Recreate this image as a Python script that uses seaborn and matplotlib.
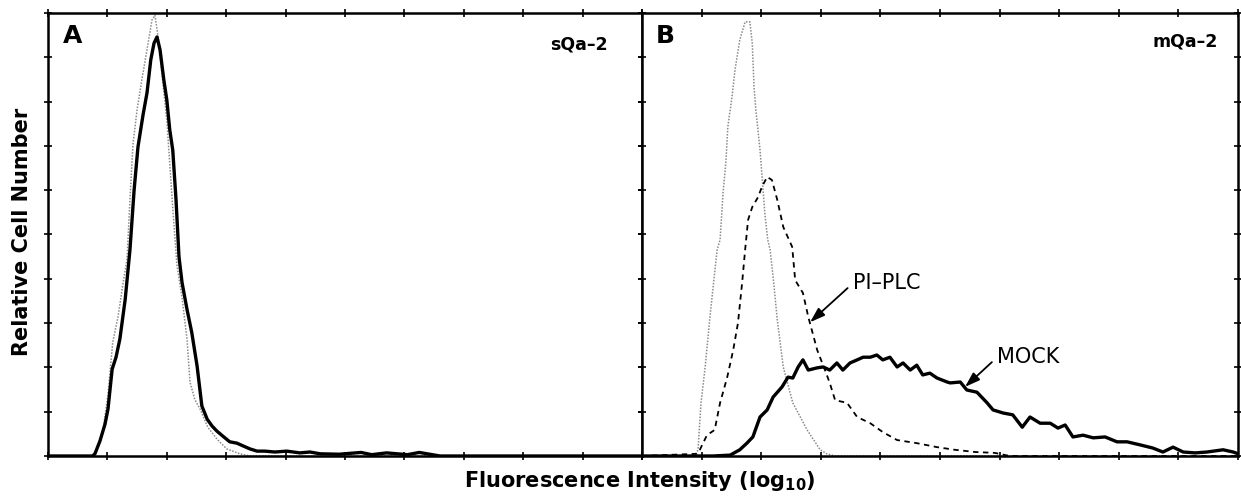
import matplotlib
matplotlib.use("Agg")
import matplotlib.pyplot as plt
import seaborn as sns

# panel A (sQa-2): control (dotted) and stained (solid)
a_ctrl_x = [0.0, 0.76, 0.825, 0.93, 1.01, 1.09, 1.18, 1.26, 1.33, 1.38, 1.43, 1.50, 1.58, 1.68, 1.75,
            1.80, 1.85, 1.92, 2.00, 2.09, 2.17, 2.26, 2.34, 2.39, 2.47, 2.56, 2.69, 2.845, 3.01, 3.23, 3.40, 10.0]
a_ctrl_y = [0.0, 0.0, 0.16, 0.61, 1.40, 2.57, 3.15, 3.87, 4.44, 5.79, 7.03, 7.82, 8.49, 9.28, 9.84,
            9.95, 9.50, 8.60, 7.59, 5.79, 4.32, 3.54, 2.64, 1.67, 1.28, 1.06, 0.65, 0.38, 0.16, 0.05, 0.0, 0.0]

a_sqa_x = [0.0, 0.75, 0.79, 0.875, 0.96, 1.01, 1.08, 1.145, 1.21, 1.30, 1.38, 1.45, 1.515, 1.60, 1.667,
           1.73, 1.785, 1.835, 1.886, 1.95, 2.00, 2.05, 2.10, 2.155, 2.205, 2.256, 2.34, 2.42, 2.51, 2.59,
           2.68, 2.76, 2.845, 2.96, 3.06, 3.18, 3.28, 3.40, 3.52, 3.65, 3.82, 4.02, 4.24, 4.41, 4.58,
           4.90, 5.27, 5.45, 5.70, 6.05, 6.25, 6.60, 10.0]
a_sqa_y = [0.0, 0.0, 0.05, 0.34, 0.72, 1.06, 1.96, 2.23, 2.64, 3.54, 4.66, 6.01, 6.98, 7.70, 8.20,
           8.94, 9.32, 9.46, 9.17, 8.49, 8.04, 7.36, 6.91, 5.79, 4.50, 3.92, 3.31, 2.79, 2.03, 1.13,
           0.83, 0.68, 0.56, 0.43, 0.32, 0.29, 0.23, 0.16, 0.11, 0.11, 0.09, 0.11, 0.07, 0.09, 0.05,
           0.04, 0.08, 0.03, 0.07, 0.03, 0.08, 0.0, 0.0]

# panel B (mQa-2): control (dotted), PI-PLC treated (dashed), mock (solid)
b_ctrl_x = [0.0, 0.89, 0.94, 0.99, 1.06, 1.14, 1.26, 1.31, 1.36, 1.41, 1.44, 1.51, 1.56, 1.64, 1.73,
            1.81, 1.85, 1.88, 1.91, 1.98, 2.01, 2.06, 2.11, 2.15, 2.20, 2.27, 2.37, 2.53, 2.77, 2.99,
            3.10, 3.24, 10.0]
b_ctrl_y = [0.0, 0.0, 0.14, 1.20, 2.01, 3.14, 4.65, 4.88, 5.94, 6.68, 7.43, 8.10, 8.71, 9.39, 9.80,
            9.80, 9.32, 8.33, 7.81, 6.91, 6.39, 5.49, 4.88, 4.65, 4.04, 3.07, 2.01, 1.20, 0.59, 0.14,
            0.05, 0.0, 0.0]

b_pipl_x = [0.0, 0.92, 0.97, 1.09, 1.22, 1.31, 1.43, 1.53, 1.61, 1.68, 1.73, 1.78, 1.85, 1.95, 2.01,
            2.10, 2.18, 2.27, 2.37, 2.52, 2.57, 2.70, 2.79, 2.85, 2.94, 3.07, 3.15, 3.24, 3.44, 3.61,
            3.83, 4.04, 4.28, 4.61, 4.95, 5.25, 5.59, 5.92, 6.17, 10.0]
b_pipl_y = [0.0, 0.05, 0.14, 0.47, 0.59, 1.20, 1.78, 2.39, 3.00, 3.91, 4.65, 5.33, 5.62, 5.85, 6.07,
            6.30, 6.23, 5.78, 5.17, 4.72, 3.97, 3.68, 3.14, 2.84, 2.39, 1.94, 1.65, 1.26, 1.20, 0.88,
            0.74, 0.54, 0.36, 0.29, 0.20, 0.14, 0.09, 0.07, 0.0, 0.0]

b_mock_x = [0.0, 1.19, 1.48, 1.64, 1.76, 1.86, 1.98, 2.10, 2.20, 2.35, 2.45, 2.53, 2.62, 2.70, 2.79,
            2.94, 3.04, 3.15, 3.27, 3.37, 3.49, 3.61, 3.71, 3.83, 3.94, 4.04, 4.16, 4.28, 4.38, 4.50,
            4.61, 4.71, 4.83, 4.95, 5.12, 5.17, 5.34, 5.45, 5.62, 5.79, 5.89, 6.06, 6.22, 6.38, 6.51,
            6.68, 6.85, 6.98, 7.10, 7.23, 7.40, 7.57, 7.77, 7.97, 8.14, 8.36, 8.57, 8.74, 8.91, 9.08,
            9.28, 9.48, 9.75, 9.92, 10.0]
b_mock_y = [0.0, 0.0, 0.02, 0.14, 0.29, 0.43, 0.88, 1.04, 1.33, 1.56, 1.78, 1.76, 2.01, 2.17, 1.94,
            1.99, 2.01, 1.94, 2.10, 1.94, 2.10, 2.17, 2.23, 2.23, 2.28, 2.17, 2.23, 2.01, 2.10, 1.94,
            2.05, 1.83, 1.87, 1.76, 1.67, 1.65, 1.67, 1.49, 1.44, 1.20, 1.04, 0.97, 0.93, 0.65, 0.88,
            0.74, 0.74, 0.63, 0.70, 0.43, 0.47, 0.41, 0.43, 0.32, 0.32, 0.25, 0.18, 0.09, 0.20, 0.09,
            0.07, 0.09, 0.14, 0.09, 0.05]

panel_letters = ["A", "B"]
panel_names = ["sQa\u20132", "mQa\u20132"]

sns.set_style("ticks")
plt.rcParams["font.family"] = ["DejaVu Sans"]
plt.rcParams["mathtext.default"] = "bf"
plt.rcParams["text.color"] = "black"

fig = plt.figure(figsize=(12.41, 4.99), dpi=100)
axA = fig.add_axes([48 / 1241, 43 / 499, 594 / 1241, 443 / 499])
axB = fig.add_axes([642 / 1241, 43 / 499, 596 / 1241, 443 / 499])

sns.lineplot(x=a_ctrl_x, y=a_ctrl_y, ax=axA, color="#8a8a8a", lw=1.1, linestyle=(0, (1, 1)))
sns.lineplot(x=a_sqa_x, y=a_sqa_y, ax=axA, color="black", lw=2.4)

sns.lineplot(x=b_ctrl_x, y=b_ctrl_y, ax=axB, color="#8a8a8a", lw=1.1, linestyle=(0, (1, 1)))
sns.lineplot(x=b_pipl_x, y=b_pipl_y, ax=axB, color="black", lw=1.3, linestyle=(0, (3, 2.5)))
sns.lineplot(x=b_mock_x, y=b_mock_y, ax=axB, color="black", lw=2.4)

for ax, letter, name, lx, nx, ny in [(axA, panel_letters[0], panel_names[0], 0.025, 0.943, 0.950),
                                     (axB, panel_letters[1], panel_names[1], 0.0235, 0.966, 0.955)]:
    ax.set_xlim(0, 10)
    ax.set_ylim(0, 10)
    ax.set_xticks(range(11))
    ax.set_yticks(range(11))
    ax.tick_params(direction="inout", length=6, width=1.2, top=True, right=True,
                   labelbottom=False, labelleft=False, color="black")
    for sp in ax.spines.values():
        sp.set_visible(True)
        sp.set_linewidth(1.8)
        sp.set_color("black")
    ax.set_xlabel("")
    ax.set_ylabel("")
    ax.text(lx, 0.975, letter, transform=ax.transAxes, ha="left", va="top",
            fontsize=18, fontweight="bold", color="black")
    ax.text(nx, ny, name, transform=ax.transAxes, ha="right", va="top",
            fontsize=12.5, fontweight="bold", color="black")

arrow = dict(arrowstyle="-|>,head_length=0.9,head_width=0.3", color="black", lw=1.3,
             mutation_scale=10, shrinkA=2, shrinkB=0, relpos=(0, 0.5))
axB.annotate("PI\u2013PLC", xy=(2.82, 3.02), xytext=(3.54, 3.9), fontsize=15, color="black",
             ha="left", va="center", arrowprops=arrow)
axB.annotate("MOCK", xy=(5.42, 1.56), xytext=(5.96, 2.23), fontsize=15, color="black",
             ha="left", va="center", arrowprops=arrow)

fig.text(22 / 1241, 1 - 232 / 499, "Relative Cell Number", rotation=90, ha="center", va="center",
         fontsize=15, fontweight="bold", color="black")
fig.text(640 / 1241, 1 - 481 / 499, "Fluorescence Intensity (log$_{10}$)", ha="center", va="center",
         fontsize=15, fontweight="bold", color="black")

fig.savefig("out.png", dpi=100)
